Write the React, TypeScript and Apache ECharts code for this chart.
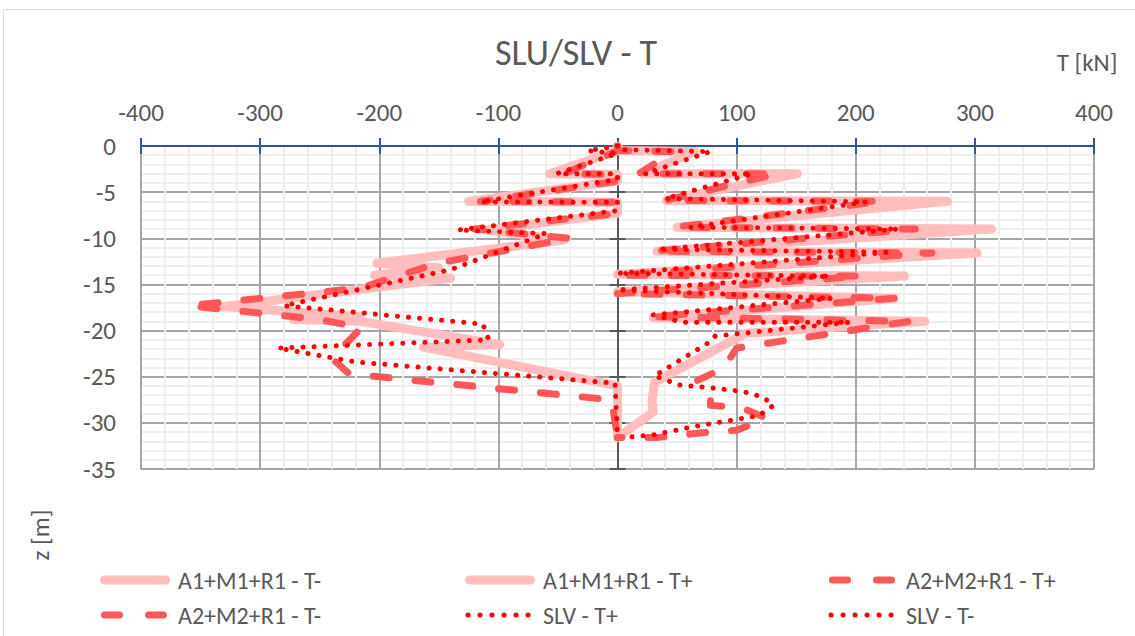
import React, { useEffect, useRef } from "react";
import * as echarts from "echarts";

const xTicks = [-400, -300, -200, -100, 0, 100, 200, 300, 400];
const zTicks = [0, -5, -10, -15, -20, -25, -30, -35];

const seriesNames = [
  "A1+M1+R1 - T-",
  "A1+M1+R1 - T+",
  "A2+M2+R1 - T+",
  "A2+M2+R1 - T-",
  "SLV - T+",
  "SLV - T-",
];

// [T (kN), z (m)]
const a1TPlus: number[][] = [
  [0, 0], [2, -0.5], [65, -0.6], [22, -3.0], [151, -3.0], [41, -5.9], [277, -6.0],
  [50, -8.8], [314, -9.0], [33, -11.4], [302, -11.6], [0, -13.9], [241, -14.1],
  [0, -15.8], [232, -16.5], [30, -18.6], [258, -19.0], [187, -19.6], [108, -20.3],
  [31, -25.6], [29, -27.7], [30, -28.8], [0, -31.6],
];
const a2TPlus: number[][] = [
  [0, 0], [0, -0.5], [47, -0.6], [18, -3.0], [134, -3.0], [40, -5.9], [222, -6.0],
  [48, -8.8], [250, -9.0], [30, -11.4], [264, -11.6], [0, -14.0], [205, -14.1],
  [0, -16.0], [233, -16.5], [28, -18.5], [245, -19.0], [100, -21.9], [89, -24.1],
  [67, -25.4], [78, -26.8], [78, -28.1], [105, -28.4], [125, -29.5], [100, -30.8],
  [69, -31.1], [33, -31.6], [0, -31.6],
];
const slvTPlus: number[][] = [
  [0, 0], [0, -0.4], [78, -0.6], [23, -3.0], [113, -3.0], [40, -5.7], [209, -6.05],
  [61, -8.8], [236, -9.0], [34, -11.2], [230, -11.5], [0, -13.8], [178, -14.1],
  [0, -15.6], [180, -16.5], [30, -18.3], [54, -19.1], [195, -19.1], [82, -20.6],
  [78, -21.2], [31, -24.9], [52, -25.9], [78, -26.2], [105, -26.6], [122, -27.2],
  [131, -28.1], [119, -29.2], [97, -29.7], [64, -30.4], [30, -31.3], [5, -31.6],
];
const a1TMinus: number[][] = [
  [0, 0], [0, -0.5], [-57, -3.0], [0, -3.1], [0, -3.8], [-125, -6.0], [0, -6.1],
  [0, -7.3], [-110, -9.1], [-45, -10.2], [-202, -12.7], [-150, -13.2], [-204, -14.0],
  [-140, -14.3], [-330, -17.4], [-216, -18.5], [-272, -18.8], [-216, -19.0],
  [-99, -21.5], [-163, -21.8], [0, -26.0], [0, -31.6],
];
const a2TMinus: number[][] = [
  [0, 0], [0, -0.5], [-45, -3.0], [0, -3.1], [0, -3.8], [-115, -6.0], [0, -6.1],
  [0, -7.3], [-120, -9.0], [-40, -10.0], [-151, -12.7], [-216, -15.4],
  [-360, -17.3], [-250, -18.8], [-215, -19.7], [-240, -23.0], [-225, -24.7],
  [-5, -27.5], [0, -31.6],
];
const slvTMinus: number[][] = [
  [0, 0], [-25, -0.5], [0, -0.8], [-51, -3.0], [0, -3.0], [0, -3.6], [-115, -6.05],
  [0, -6.1], [0, -7.0], [-134, -9.1], [-60, -9.5], [-140, -13.4], [-280, -17.3],
  [-113, -19.3], [-108, -21.0], [-285, -21.9], [-220, -23.4], [-2, -25.7], [0, -31.5],
];

const FONT = "Calibri, Carlito, Lato, 'Open Sans', sans-serif";
const TXT = "#595959";

const PINK = { stroke: "#ffbdbd", lineWidth: 9, lineCap: "round", lineDash: null as any };
const DASH = { stroke: "#ff5757", lineWidth: 7, lineCap: "round", lineDash: [15, 29] };
const DOT = { stroke: "#ff0000", lineWidth: 5, lineCap: "round", lineDash: [0.1, 11.9] };

export default function App() {
  const ref = useRef<HTMLDivElement>(null);
  useEffect(() => {
    if (!ref.current) return;
    const chart = echarts.init(ref.current, undefined, { renderer: "svg" });
    const pink = { color: PINK.stroke, width: 9, cap: "round", join: "round" };
    const dash = { color: DASH.stroke, width: 7, type: [16, 26], cap: "round", join: "round" };
    const dot = { color: DOT.stroke, width: 5, type: [0.1, 11], cap: "round", join: "round" };
    const mk = (name: string, data: number[][], ls: any, z: number) => ({
      name,
      type: "line",
      data,
      symbol: "none",
      showSymbol: false,
      lineStyle: ls,
      itemStyle: { color: ls.color },
      z,
      silent: true,
    });
    const cols = [100, 465, 828];
    const rows = [580, 615];
    const legStyles = [PINK, PINK, DASH, DASH, DOT, DOT];
    const legendGraphics: any[] = [];
    seriesNames.forEach((n, i) => {
      const x0 = cols[i % 3];
      const yc = rows[Math.floor(i / 3)];
      const st = legStyles[i];
      const isDot = st === DOT;
      legendGraphics.push({
        type: "line",
        silent: true,
        shape: isDot ? { x1: x0 + 3, y1: yc, x2: x0 + 63.5, y2: yc } : { x1: x0 + 4.5, y1: yc, x2: x0 + 65.5, y2: yc },
        style: { stroke: st.stroke, lineWidth: st.lineWidth, lineCap: "round", lineDash: st.lineDash || undefined },
      });
      legendGraphics.push({
        type: "text",
        silent: true,
        x: x0 + 78,
        y: yc,
        style: { text: n, fill: TXT, font: `24px ${FONT}`, textAlign: "left", textVerticalAlign: "middle" },
      });
    });
    const option: any = {
      animation: false,
      textStyle: { fontFamily: FONT },
      grid: { left: 141, right: 41, top: 146, bottom: 167 },
      graphic: [
        {
          type: "rect",
          silent: true,
          shape: { x: 3.5, y: 9.5, width: 1140, height: 640 },
          style: { fill: "none", stroke: "#d9d9d9", lineWidth: 1 },
        },
        {
          type: "text",
          silent: true,
          x: 576, y: 53,
          style: { text: "SLU/SLV - T", fill: TXT, font: `36px ${FONT}`, textAlign: "center", textVerticalAlign: "middle" },
        },
        {
          type: "text",
          silent: true,
          x: 1087, y: 62,
          style: { text: "T [kN]", fill: TXT, font: `25px ${FONT}`, textAlign: "center", textVerticalAlign: "middle" },
        },
        {
          type: "text",
          silent: true,
          x: 40, y: 535, rotation: Math.PI / 2,
          style: { text: "z [m]", fill: TXT, font: `25px ${FONT}`, textAlign: "center", textVerticalAlign: "middle" },
        },
        ...legendGraphics,
      ],
      xAxis: [
        {
          type: "value", position: "top", min: -400, max: 400, interval: 100,
          axisLine: { onZero: false, lineStyle: { color: "#2f5597", width: 2 } },
          axisTick: { show: true, length: 8, lineStyle: { color: "#2f5597", width: 2 } },
          axisLabel: { color: TXT, fontSize: 25, fontFamily: FONT, margin: 21, formatter: (v: number) => (xTicks.includes(v) ? String(v) : "") },
          splitLine: { show: true, lineStyle: { color: "#a6a6a6", width: 2 } },
          minorTick: { show: false, splitNumber: 5 },
          minorSplitLine: { show: true, lineStyle: { color: "#eeeeee", width: 2 } },
        },
        {
          type: "value", position: "top", min: -400, max: 400, interval: 100,
          axisLine: { show: false, onZero: false },
          axisTick: { show: true, inside: true, length: 8, lineStyle: { color: "#2f5597", width: 2 } },
          axisLabel: { show: false },
          splitLine: { show: false },
        },
      ],
      yAxis: [
        {
          type: "value", min: -35, max: 0, interval: 5,
          axisLine: { show: false, onZero: false },
          axisTick: { show: false },
          axisLabel: { color: TXT, fontSize: 25, fontFamily: FONT, margin: 25, formatter: (v: number) => (zTicks.includes(v) ? String(v) : "") },
          splitLine: { show: true, lineStyle: { color: "#a6a6a6", width: 2 } },
          minorTick: { show: false, splitNumber: 5 },
          minorSplitLine: { show: true, lineStyle: { color: "#eeeeee", width: 2 } },
        },
        {
          type: "value", min: -35, max: 0, interval: 5,
          axisLine: { show: true, onZero: true, onZeroAxisIndex: 0, lineStyle: { color: "#595959", width: 2 } },
          axisTick: { show: true, length: 8, lineStyle: { color: "#595959", width: 2 } },
          axisLabel: { show: false },
          splitLine: { show: false },
        },
        {
          type: "value", min: -35, max: 0, interval: 5,
          axisLine: { show: false, onZero: true, onZeroAxisIndex: 0 },
          axisTick: { show: true, inside: true, length: 8, lineStyle: { color: "#595959", width: 2 } },
          axisLabel: { show: false },
          splitLine: { show: false },
        },
      ],
      series: [
        mk(seriesNames[0], a1TMinus, pink, 2),
        mk(seriesNames[1], a1TPlus, pink, 2),
        mk(seriesNames[2], a2TPlus, dash, 3),
        mk(seriesNames[3], a2TMinus, dash, 3),
        mk(seriesNames[4], slvTPlus, dot, 4),
        mk(seriesNames[5], slvTMinus, dot, 4),
      ],
    };
    chart.setOption(option);
    return () => chart.dispose();
  }, []);
  return (
    <div
      ref={ref}
      style={{ position: "absolute", left: 0, top: 0, width: 1135, height: 636, background: "#fff" }}
    />
  );
}
